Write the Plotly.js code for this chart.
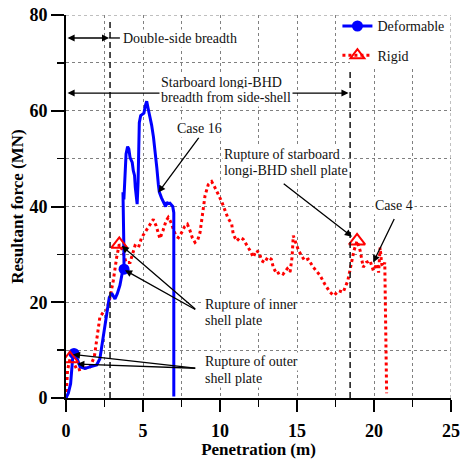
<!DOCTYPE html>
<html><head><meta charset="utf-8">
<script src="https://cdn.plot.ly/plotly-3.0.1.min.js"></script>
<style>html,body{margin:0;padding:0;background:#fff;}#chart{width:461px;height:459px;}</style>
</head><body><div id="chart"></div>
<script>
// ---- Data ----
const deformX = [0,0.15,0.3,0.43,0.52,0.73,0.91,1.23,1.56,1.99,2.2,2.42,2.64,2.81,2.97,3.18,3.33,3.5,3.68,3.77,3.75,3.72,3.74,3.7,3.76,3.82,3.9,4.0,4.08,4.16,4.3,4.37,4.45,4.5,4.57,4.62,4.68,4.76,4.85,4.95,5.06,5.15,5.24,5.35,5.48,5.56,5.68,5.78,5.9,6.0,6.06,6.2,6.36,6.47,6.55,6.64,6.75,6.85,6.93,7.0,7.0,7.0,7.0];
const deformY = [0,1,3,8.2,9.3,8.2,6.5,6.2,6.5,6.9,8.2,12.7,17.6,21,21.9,20.7,21.8,23.5,26.6,26.9,33,38,42.5,43,41.5,46,51,52.5,52,50.2,49.2,47.5,46.5,44,41.5,40.5,45,57.5,59,59.2,59.5,61,62,60.2,58.5,57,54.5,52,48,44.5,43,41.8,40.8,40,40.9,40.6,40.7,40.2,40,38.7,20,1,0.3];
const rigidX = [0,0.04,0.1,0.26,0.47,0.73,1.02,1.3,1.56,1.84,1.99,2.2,2.42,2.64,2.86,3.07,3.29,3.46,3.68,3.9,4.16,4.33,4.48,4.7,4.91,5.13,5.3,5.5,5.67,5.85,6.1,6.3,6.5,6.64,6.8,7.0,7.15,7.3,7.5,7.7,7.88,8.05,8.2,8.38,8.55,8.7,8.85,9.03,9.24,9.46,9.68,9.89,10.1,10.3,10.5,10.76,10.86,11.08,11.3,11.5,11.73,11.95,12.16,12.34,12.55,12.7,12.9,13.1,13.33,13.46,13.68,13.9,14.1,14.37,14.55,14.68,14.76,14.87,15.1,15.3,15.5,15.73,16.06,16.5,16.8,17.14,17.4,17.7,18.0,18.3,18.5,18.7,18.9,19.1,19.3,19.5,19.74,19.96,20.1,20.2,20.3,20.4,20.5,20.6,20.7,20.75,20.8,20.82];
const rigidY = [0,2.4,5.8,8.2,7.5,5.8,6,6.2,6.5,8.6,12,16.9,17.9,18.3,21,24.5,29.4,32.1,30.8,28.3,28.3,30,31.8,31.4,33.5,34.6,35.5,36.5,37.3,36,33.3,35,37,37.7,36.8,35,33.8,33.5,34.5,35.8,36.3,35,33.5,32.5,33,34.5,38.2,42.3,44.6,45.2,43.9,42.5,41.1,39.4,37.7,36.3,34.2,32.8,33.5,33.2,32.1,30.8,29.4,30.8,30.4,28.7,28.3,29.4,29,27.3,25.9,26.3,25.9,27,26.3,29.4,33.9,32.8,30.8,29.7,28.7,29,27.3,25.6,23.8,22.1,21.4,22.4,22.1,24.5,27.3,30.8,32.8,30.8,27.3,28.3,28.7,26.6,27.5,28,26.2,31.4,28,27.5,28.3,20,10,1];
const deformMarkX = [0.52, 3.77];
const deformMarkY = [9.3, 26.9];
const rigidMarkX = [0.26, 3.46, 18.9];
const rigidMarkY = [8.2, 32.1, 32.8];
const seriesNames = ['Deformable', 'Rigid'];
const xTickVals = [0, 5, 10, 15, 20, 25];
const yTickVals = [0, 20, 40, 60, 80];
const boundaryX = [2.86, 18.45]; // double-side breadth, longi-BHD breadth

// ---- Styles ----
const FONT = 'Liberation Serif';
const BLUE = '#0000ff', RED = '#ff0000';
const GRID = '#808080';

const traces = [
  {x:[null], y:[null], name:seriesNames[0], mode:'lines+markers', legendgroup:'a',
   line:{color:BLUE, width:3}, marker:{symbol:'circle', size:11, color:BLUE}},
  {x:[null], y:[null], name:seriesNames[1], mode:'lines+markers', legendgroup:'b',
   line:{color:RED, width:3, dash:'dot'}, marker:{symbol:'triangle-up-open', size:12, color:RED, line:{width:2, color:RED}}},
  {x:rigidX, y:rigidY, mode:'lines', showlegend:false, hoverinfo:'skip',
   line:{color:RED, width:3, dash:'dot'}},
  {x:deformX, y:deformY, mode:'lines', showlegend:false, hoverinfo:'skip',
   line:{color:BLUE, width:3}},
  {x:deformMarkX, y:deformMarkY, mode:'markers', showlegend:false, hoverinfo:'skip',
   marker:{symbol:'circle', size:11, color:BLUE}},
  {x:rigidMarkX, y:rigidMarkY, mode:'markers', showlegend:false, hoverinfo:'skip',
   marker:{symbol:'triangle-up-open', size:14, color:RED, line:{width:2, color:RED}}}
];

function arrow(hx, hy, tx, ty, both) {
  const a = {xref:'x', yref:'y', axref:'x', ayref:'y', x:hx, y:hy, ax:tx, ay:ty, text:'',
    showarrow:true, arrowhead:2, arrowsize:1.1, arrowwidth:1.3, arrowcolor:'#000', standoff:0, startstandoff:0};
  if (both) { a.arrowside = 'end+start'; a.startarrowhead = 2; a.startarrowsize = 1.1; }
  return a;
}
function label(t, x, y, anchor) {
  return {xref:'x', yref:'y', x:x, y:y, text:t, showarrow:false, xanchor:anchor || 'left', yanchor:'middle',
    bgcolor:'#ffffff', borderpad:1, font:{family:FONT, size:14, color:'#111'}};
}

const annotations = [
  arrow(2.8, 75.2, 0, 75.2, true),
  arrow(18.35, 63.7, 0, 63.7, true),
  arrow(5.99, 42.9, 8.7, 54.7),
  arrow(18.57, 33.7, 14.04, 45.0),
  arrow(19.95, 28.3, 21.36, 37.7),
  arrow(3.62, 31.8, 8.49, 18.3),
  arrow(3.83, 26.7, 8.49, 18.3),
  arrow(0.45, 9.1, 8.49, 6.2),
  arrow(0.73, 7.1, 8.49, 6.2),
  label('Double-side breadth', 3.6, 75.0),
  label('Starboard longi-BHD', 6.05, 65.9),
  label('breadth from side-shell', 6.05, 62.7),
  label('Case 16', 8.64, 56.3, 'center'),
  label('Rupture of starboard', 10.1, 50.8),
  label('longi-BHD shell plate', 10.1, 47.6),
  label('Case 4', 21.3, 40.3, 'center'),
  label('Rupture of inner', 8.9, 19.5),
  label('shell plate', 8.9, 16.1),
  label('Rupture of outer', 8.9, 7.55),
  label('shell plate', 8.9, 4.1)
];

const shapes = [
  // white patch behind legend (hides grid, not the frame)
  {type:'rect', xref:'x', yref:'y', x0:18.44, x1:24.95, y0:69.2, y1:79.85, fillcolor:'#ffffff', line:{width:0}, layer:'between'},
  // dotted frame at top / right
  {type:'line', xref:'x', yref:'y', x0:0, x1:25, y0:80, y1:80, line:{color:GRID, width:1, dash:'dot'}},
  {type:'line', xref:'x', yref:'y', x0:25, x1:25, y0:0, y1:80, line:{color:GRID, width:1, dash:'dot'}},
  // boundary dashed lines
  {type:'line', xref:'x', yref:'y', x0:boundaryX[0], x1:boundaryX[0], y0:0, y1:78.6, line:{color:'#222', width:1.6, dash:'6px,4px'}},
  {type:'line', xref:'x', yref:'y', x0:boundaryX[1], x1:boundaryX[1], y0:0, y1:68.5, line:{color:'#222', width:1.6, dash:'6px,4px'}},
  // extension of double-side arrow toward its label
  {type:'line', xref:'x', yref:'y', x0:2.8, x1:3.5, y0:75.2, y1:75.2, line:{color:'#000', width:1.3}}
];

const tickFont = {family:FONT, size:18, color:'#000', weight:'bold'};
const titleFont = {family:FONT, size:17, color:'#000', weight:'bold'};

const layout = {
  width:461, height:459,
  margin:{l:66, r:10, t:13, b:61},
  paper_bgcolor:'#fff', plot_bgcolor:'#fff',
  showlegend:true,
  legend:{x:0.705, y:1.012, xanchor:'left', yanchor:'top', bgcolor:'rgba(0,0,0,0)', borderwidth:0,
    font:{family:FONT, size:14, color:'#111'}, tracegroupgap:8},
  xaxis:{range:[0,25], tickvals:xTickVals, showline:true, linecolor:'#000', linewidth:2,
    ticks:'outside', ticklen:12, tickwidth:2, tickcolor:'#000',
    showgrid:true, gridcolor:GRID, griddash:'dot', gridwidth:1, zeroline:false, ticklabelstandoff:3,
    tickfont:tickFont,
    minor:{dtick:2.5, tick0:0, ticks:'outside', ticklen:7, tickwidth:1.5, tickcolor:'#000',
      showgrid:true, gridcolor:GRID, griddash:'dot', gridwidth:1},
    title:{text:'Penetration (m)', font:titleFont, standoff:4}, fixedrange:true},
  yaxis:{range:[0,80], tickvals:yTickVals, showline:true, linecolor:'#000', linewidth:2,
    ticks:'outside', ticklen:13, tickwidth:2, tickcolor:'#000',
    showgrid:true, gridcolor:GRID, griddash:'dot', gridwidth:1, zeroline:false,
    tickfont:tickFont,
    minor:{dtick:10, tick0:0, ticks:'outside', ticklen:7, tickwidth:1.5, tickcolor:'#000',
      showgrid:true, gridcolor:GRID, griddash:'dot', gridwidth:1},
    title:{text:'Resultant force (MN)', font:titleFont, standoff:1}, fixedrange:true},
  annotations:annotations,
  shapes:shapes
};

Plotly.newPlot('chart', traces, layout, {displayModeBar:false, staticPlot:true});
</script>
</body></html>
